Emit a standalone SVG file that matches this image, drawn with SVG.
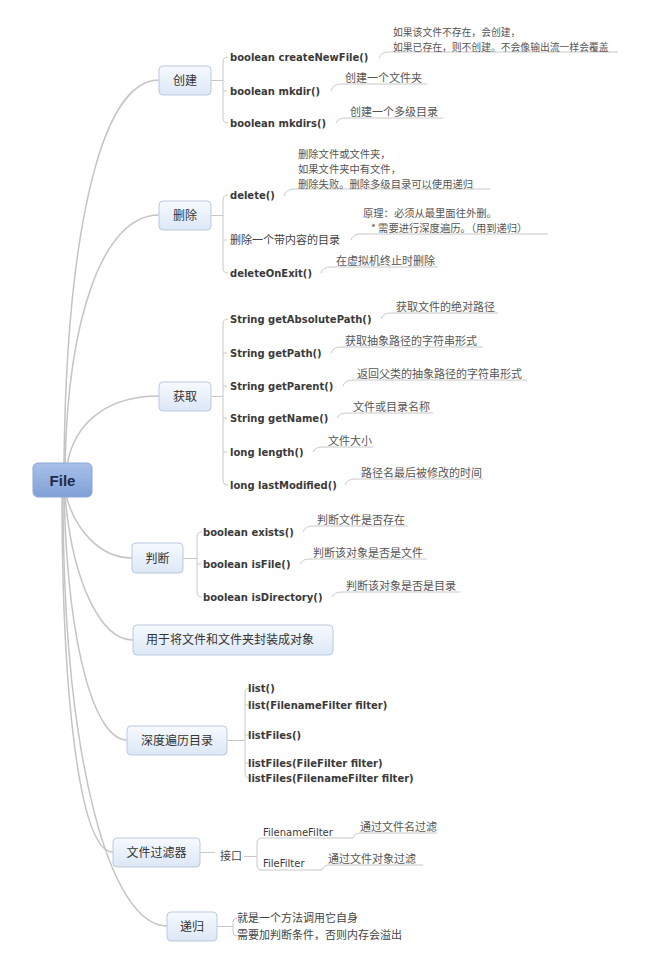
<svg xmlns="http://www.w3.org/2000/svg" width="650" height="972" viewBox="0 0 650 972">
<defs>
<linearGradient id="gNode" x1="0" y1="0" x2="0" y2="1">
<stop offset="0" stop-color="#f7faff"/>
<stop offset="1" stop-color="#dce7f6"/>
</linearGradient>
<linearGradient id="gRoot" x1="0" y1="0" x2="0" y2="1">
<stop offset="0" stop-color="#a9c1ea"/>
<stop offset="1" stop-color="#7f9fd6"/>
</linearGradient>
<style>
.main{fill:none;stroke:#c4c4c4;stroke-width:1.5}
.br{fill:none;stroke:#c8c8c8;stroke-width:1}
.box{fill:url(#gNode);stroke:#b9c9de;stroke-width:1}
.lbl{font-family:"Noto Sans CJK SC",sans-serif;font-size:12px;fill:#333}
.m{font-family:"DejaVu Sans",Verdana,sans-serif;font-weight:bold;font-size:10px;fill:#3a3a3a}
.r{font-family:"DejaVu Sans",Verdana,sans-serif;font-size:10px;fill:#3a3a3a}
.c{font-family:"Noto Sans CJK SC",sans-serif;font-size:11px;fill:#444}
.n{font-family:"Noto Sans CJK SC",sans-serif;font-size:11px;fill:#555}
.nm{font-family:"Noto Sans CJK SC",sans-serif;font-size:10.3px;fill:#555}
.n10{font-family:"Noto Sans CJK SC",sans-serif;font-size:9.8px;fill:#555}
</style>
</defs>
<rect width="650" height="972" fill="#ffffff"/>

<g id="connectors">
<path class="main" d="M64,465 C66,250 97,80 159,80"/>
<path class="main" d="M65,465 C68,320 102,215 159,215"/>
<path class="main" d="M67,465 C75,420 110,396 159,396"/>
<path class="main" d="M66,495 C75,530 100,558 132,558"/>
<path class="main" d="M65,495 C72,580 100,640 133,640"/>
<path class="main" d="M64,495 C68,650 95,740 127,740"/>
<path class="main" d="M62,495 C62,700 80,852 113,852"/>
<path class="main" d="M63,495 C63,760 110,926 167,926"/>

<path class="br" d="M211,80.5 H223 M228,57 Q223,57 223,62 V118 Q223,123 228,123 M223,91 H227"/>
<path class="br" d="M211,215.5 H223 M228,195 Q223,195 223,200 V268 Q223,273 228,273 M223,240 H227"/>
<path class="br" d="M211,396.5 H223 M228,319 Q223,319 223,324 V480 Q223,485 228,485 M223,353 H227 M223,386 H227 M223,418 H227 M223,452 H227"/>
<path class="br" d="M183,558.5 H197 M202,532 Q197,532 197,537 V592 Q197,597 202,597 M197,564 H201"/>
<path class="br" d="M227,740.5 H245 M250,688 Q245,688 245,693 V773 Q245,778 250,778 M245,705 H249 M245,735 H249 M245,763 H249"/>
<path class="br" d="M200,852.5 H215 M244,856.5 H257 M353,838 H262 Q257,838 257,843 V865 Q257,870 262,870 H322"/>
<path class="br" d="M217,926.5 H233 M237,918 Q233,918 233,922 V932 Q233,936 237,936"/>

<path class="br" d="M379,58 Q381,52 389,52 H618"/>
<path class="br" d="M331,91 Q333,84 341,84 H427"/>
<path class="br" d="M336,123 Q338,118 346,118 H443"/>
<path class="br" d="M284,196 Q286,189 294,189 H490"/>
<path class="br" d="M351,240 Q353,234 360,234 H548"/>
<path class="br" d="M321,273 Q323,267 331,267 H438"/>
<path class="br" d="M381,319 Q383,313 391,313 H498"/>
<path class="br" d="M331,353 Q333,347 341,347 H483"/>
<path class="br" d="M343,386 Q345,380 353,380 H527"/>
<path class="br" d="M337,418 Q339,413 347,413 H433"/>
<path class="br" d="M313,452 Q315,447 323,447 H373"/>
<path class="br" d="M345,485 Q347,479 355,479 H483"/>
<path class="br" d="M303,532 Q305,526 313,526 H408"/>
<path class="br" d="M300,564 Q302,559 310,559 H427"/>
<path class="br" d="M332,597 Q334,592 342,592 H460"/>
<path class="br" d="M353,838 Q355,833 360,833 H437"/>
<path class="br" d="M322,870 Q324,865 329,865 H423"/>
</g>

<g id="root">
<rect x="33" y="463" width="59" height="34" rx="5" fill="url(#gRoot)" stroke="#8ca7d4"/>
<text x="62.5" y="485.5" text-anchor="middle" font-family="Liberation Sans, Arial, sans-serif" font-weight="bold" font-size="15" fill="#1e2b45">File</text>
</g>

<g id="create">
<rect class="box" x="159" y="66" width="52" height="29" rx="4"/>
<text class="lbl" x="185" y="85" text-anchor="middle">创建</text>
<text class="m" x="230" y="61">boolean createNewFile()</text>
<text class="m" x="230" y="95">boolean mkdir()</text>
<text class="m" x="230" y="127">boolean mkdirs()</text>
<text class="n10" x="393" y="36">如果该文件不存在，会创建，<tspan x="393" y="50.5">如果已存在，则不创建。不会像输出流一样会覆盖</tspan></text>
<text class="n" x="345" y="82">创建一个文件夹</text>
<text class="n" x="350" y="116">创建一个多级目录</text>
</g>

<g id="delete">
<rect class="box" x="159" y="201" width="52" height="29" rx="4"/>
<text class="lbl" x="185" y="220" text-anchor="middle">删除</text>
<text class="m" x="230" y="199">delete()</text>
<text class="c" x="230" y="244">删除一个带内容的目录</text>
<text class="m" x="230" y="277">deleteOnExit()</text>
<text class="nm" x="298" y="157.5">删除文件或文件夹，<tspan x="298" y="172.5">如果文件夹中有文件，</tspan><tspan x="298" y="187.5">删除失败。删除多级目录可以使用递归</tspan></text>
<text class="nm" x="363" y="217">原理：必须从最里面往外删。<tspan x="371" y="232">* 需要进行深度遍历。（用到递归）</tspan></text>
<text class="n" x="336" y="265">在虚拟机终止时删除</text>
</g>

<g id="get">
<rect class="box" x="159" y="382" width="52" height="29" rx="4"/>
<text class="lbl" x="185" y="401" text-anchor="middle">获取</text>
<text class="m" x="230" y="323">String getAbsolutePath()</text>
<text class="m" x="230" y="357">String getPath()</text>
<text class="m" x="230" y="390">String getParent()</text>
<text class="m" x="230" y="422">String getName()</text>
<text class="m" x="230" y="456">long length()</text>
<text class="m" x="230" y="489">long lastModified()</text>
<text class="n" x="396" y="311">获取文件的绝对路径</text>
<text class="n" x="345" y="345">获取抽象路径的字符串形式</text>
<text class="n" x="357" y="378">返回父类的抽象路径的字符串形式</text>
<text class="n" x="353" y="411">文件或目录名称</text>
<text class="n" x="328" y="445">文件大小</text>
<text class="n" x="361" y="477">路径名最后被修改的时间</text>
</g>

<g id="judge">
<rect class="box" x="132" y="543" width="51" height="30" rx="4"/>
<text class="lbl" x="157.5" y="562.5" text-anchor="middle">判断</text>
<text class="m" x="203" y="536">boolean exists()</text>
<text class="m" x="203" y="568">boolean isFile()</text>
<text class="m" x="203" y="601">boolean isDirectory()</text>
<text class="n" x="317" y="524">判断文件是否存在</text>
<text class="n" x="313" y="557">判断该对象是否是文件</text>
<text class="n" x="346" y="590">判断该对象是否是目录</text>
</g>

<g id="wrap">
<rect class="box" x="133" y="625" width="200" height="30" rx="4"/>
<text class="lbl" x="146" y="644">用于将文件和文件夹封装成对象</text>
</g>

<g id="traverse">
<rect class="box" x="127" y="726" width="100" height="29" rx="4"/>
<text class="lbl" x="177" y="745" text-anchor="middle">深度遍历目录</text>
<text class="m" x="248" y="692">list()</text>
<text class="m" x="248" y="709">list(FilenameFilter filter)</text>
<text class="m" x="248" y="739">listFiles()</text>
<text class="m" x="248" y="767">listFiles(FileFilter filter)</text>
<text class="m" x="248" y="782">listFiles(FilenameFilter filter)</text>
</g>

<g id="filter">
<rect class="box" x="113" y="838" width="87" height="29" rx="4"/>
<text class="lbl" x="156.5" y="857" text-anchor="middle">文件过滤器</text>
<text class="c" x="220" y="860">接口</text>
<text class="r" x="263" y="836">FilenameFilter</text>
<text class="r" x="263" y="867">FileFilter</text>
<text class="n" x="360" y="831">通过文件名过滤</text>
<text class="n" x="328" y="863">通过文件对象过滤</text>
</g>

<g id="recursion">
<rect class="box" x="167" y="912" width="50" height="29" rx="4"/>
<text class="lbl" x="192" y="931" text-anchor="middle">递归</text>
<text class="c" x="237" y="922" fill="#333">就是一个方法调用它自身<tspan x="237" y="939">需要加判断条件，否则内存会溢出</tspan></text>
</g>
</svg>
